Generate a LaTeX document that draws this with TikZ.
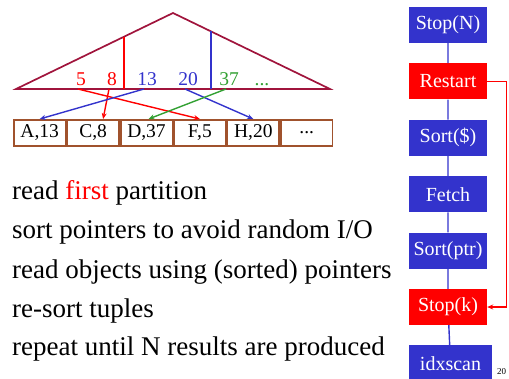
\documentclass[tikz,border=0pt]{standalone}
\usepackage{fontspec}
\setmainfont{Liberation Serif}
\usetikzlibrary{positioning,arrows.meta}
\definecolor{treered}{RGB}{160,20,60}
\definecolor{boxbrown}{RGB}{160,82,45}
\definecolor{opblue}{RGB}{51,51,204}
\definecolor{keygreen}{RGB}{50,160,50}
\tikzset{
  tup/.style={draw=boxbrown, line width=1.7pt, minimum width=51.7pt, minimum height=26pt, inner sep=0pt, font=\fontsize{19.5}{20}\selectfont},
  key/.style={anchor=base, inner sep=0pt, font=\fontsize{19.5}{20}\selectfont},
  op/.style={fill=opblue, text=white, minimum width=78pt, minimum height=36pt, inner sep=0pt, font=\fontsize{20}{22}\selectfont},
  line/.style={anchor=base west, inner sep=0pt, font=\fontsize{27}{30}\selectfont},
  ptr/.style={-{Stealth[length=6pt,width=5pt]}, line width=1.4pt}
}
\begin{document}
\begin{tikzpicture}[x=1pt, y=-1pt]
	\useasboundingbox (0,0) rectangle (509,378);
	
	% index tree
	\coordinate (top) at (173,13);
	\coordinate (bl) at (16,89);
	\coordinate (br) at (330,89);
	\draw[treered, line width=1.7pt] (bl) -- (top) -- (br) -- cycle;
	\draw[red, line width=1.5pt] (124,36.7) -- (124,89);
	\draw[opblue, line width=1.5pt] (211,31.4) -- (211,89);
	
	% keys in the first partition
	\node[key, text=red] (k5) at (81,85) {5};
	\node[key, text=red] (k8) at (112,85) {8};
	\node[key, text=opblue] (k13) at (147,85) {13};
	\node[key, text=opblue] (k20) at (188,85) {20};
	\node[key, text=keygreen] (k37) at (229,85) {37};
	\node[key, text=keygreen] (kdots) at (262,85) {...};
	
	% tuples
	\node[tup, anchor=north west] (ta) at (13,119) {A,13};
	\node[tup, right=0pt of ta] (tc) {C,8};
	\node[tup, right=0pt of tc] (td) {D,37};
	\node[tup, right=0pt of td] (tf) {F,5};
	\node[tup, right=0pt of tf] (th) {H,20};
	\node[tup, right=0pt of th] (tx) {...};
	
	% pointers
	\draw[ptr, red] ([xshift=-3pt]k5 |- bl) -- (tf.north);
	\draw[ptr, red] ([xshift=-3pt]k8 |- bl) -- ([xshift=10pt]tc.north);
	\draw[ptr, opblue] ([xshift=-3pt]k13 |- bl) -- (ta.north);
	\draw[ptr, opblue] ([xshift=-3pt]k20 |- bl) -- (th.north);
	\draw[ptr, keygreen] ([xshift=-3pt]k37 |- bl) -- ([xshift=2pt]td.north);
	
	% steps
	\node[line] (l1) at (12,199) {read \textcolor{red}{first} partition};
	\node[line] (l2) at (12,238) {sort pointers to avoid random I/O};
	\node[line] (l3) at (12,278) {read objects using (sorted) pointers};
	\node[line] (l4) at (12,317) {re-sort tuples};
	\node[line] (l5) at (12,355) {repeat until N results are produced};
	
	% plan
	\node[op] (stopn) at (448,25) {Stop(N)};
	\node[op, fill=red, below=20pt of stopn] (restart) {Restart};
	\node[op, below=20pt of restart] (sortd) {Sort(\$)};
	\node[op, below=20pt of sortd] (fetch) {Fetch};
	\node[op, below=20pt of fetch] (sortp) {Sort(ptr)};
	\node[op, fill=red, below=20pt of sortp] (stopk) {Stop(k)};
	\node[op, minimum width=83pt, anchor=north west] (scan) at ([yshift=-20pt]stopk.south west) {idxscan};
	\draw[opblue, line width=1.4pt] (stopn) -- (restart) -- (sortd) -- (fetch) -- (sortp) -- (stopk) -- (scan);
	\draw[ptr, red] (restart.east) -- ++(19,0) |- (stopk.east);
	
	\node[anchor=base west, inner sep=0pt, font=\fontsize{9}{10}\selectfont] (pg) at (497,374) {20};
\end{tikzpicture}
\end{document}
